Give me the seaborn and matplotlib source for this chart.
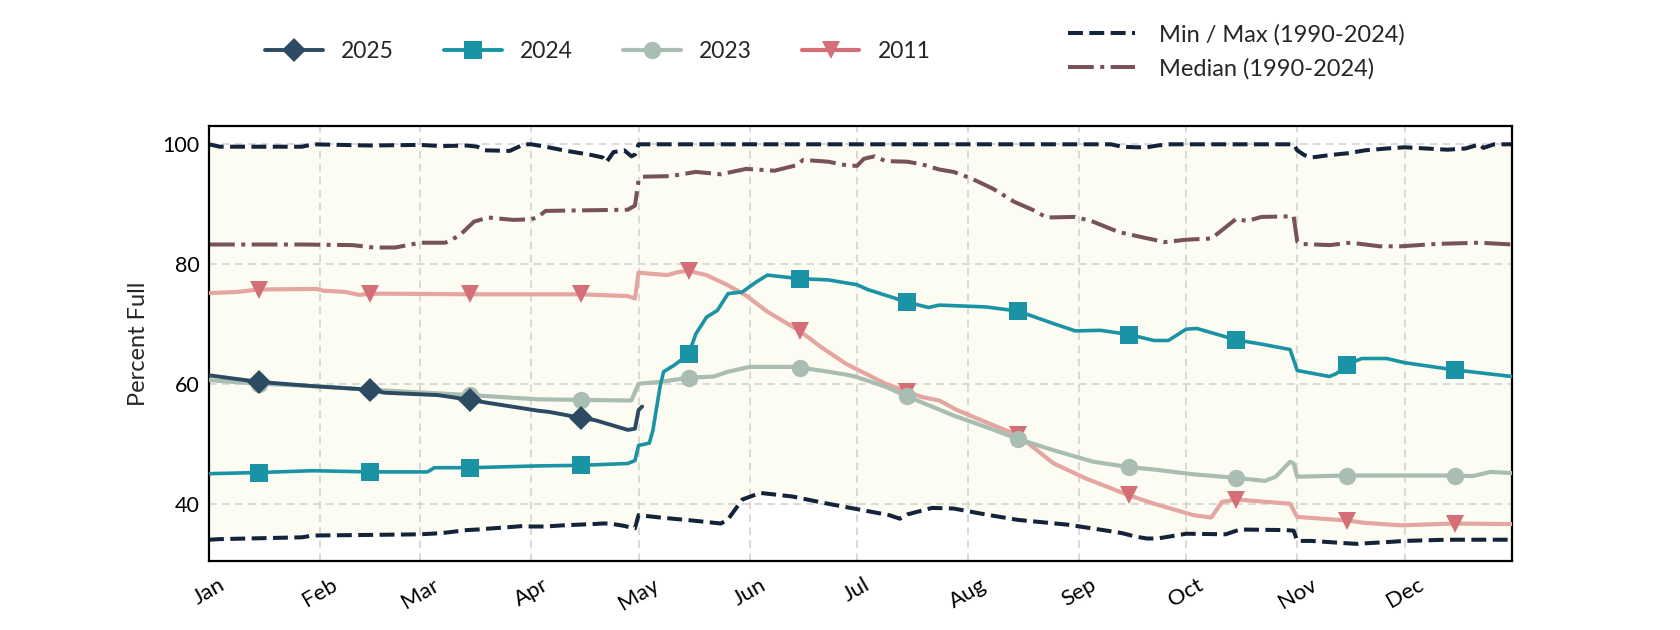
import numpy as np
import pandas as pd
import matplotlib
matplotlib.use("Agg")
import matplotlib.pyplot as plt
import matplotlib.dates as mdates
from matplotlib.lines import Line2D
import seaborn as sns

YEAR = "2025"

# ---------------- data ----------------
env_dates = ["01-01", "01-04", "01-27", "01-30", "02-15", "03-01", "03-07", "03-14", "03-17", "03-19",
             "03-26", "03-30", "04-01", "04-05", "04-10", "04-18", "04-21", "04-22", "04-24", "04-27",
             "04-29", "04-30", "05-01", "05-07", "05-16", "05-24", "05-26", "05-30", "06-04", "06-13",
             "06-22", "07-01", "07-10", "07-13", "07-15", "07-22", "07-28", "08-06", "08-15", "08-29",
             "09-10", "09-13", "09-17", "09-20", "09-23", "09-26", "10-01", "10-12", "10-16", "10-29",
             "10-31", "11-01", "11-03", "11-05", "11-10", "11-15", "11-18", "11-20", "11-26", "12-01",
             "12-07", "12-13", "12-18", "12-22", "12-23", "12-26", "12-31"]
max_vals = [100, 99.6, 99.6, 100, 99.8, 99.9, 99.7, 99.8, 99.6, 99.0, 98.9, 100,
            100, 99.6, 99.0, 98.2, 97.8, 97.0, 98.7, 99.0, 98.0, 98.3,
            100, 100, 100, 100, 100, 100, 100, 100, 100, 100,
            100, 100, 100, 100, 100, 100, 100, 100,
            100, 99.6, 99.5, 99.5, 99.8, 100,
            100, 100, 100, 100, 100,
            99.0, 98.2, 97.8, 98.2, 98.5, 98.8, 99.0, 99.3,
            99.5, 99.3, 99.1, 99.3, 100, 99.4, 100, 100]
min_vals = [34.1, 34.2, 34.5, 34.8, 34.9, 35.0, 35.2, 35.7, 35.8, 35.9, 36.2, 36.4,
            36.3, 36.3, 36.5, 36.7, 36.8, 36.8, 36.7, 36.4, 36.1, 36.0,
            38.2, 37.8, 37.3, 36.8, 37.5, 40.8, 41.9, 41.3, 40.2, 39.2,
            38.2, 37.6, 38.3, 39.4, 39.3, 38.3, 37.4, 36.6,
            35.5, 35.2, 34.6, 34.3, 34.3, 34.6,
            35.1, 35.0, 35.8, 35.7, 35.6,
            33.9, 33.9, 33.9, 33.7, 33.5, 33.4, 33.5, 33.7,
            33.9, 34.0, 34.1, 34.1, 34.1, 34.1, 34.1, 34.1]

median_dates = ["01-01", "01-27", "02-10", "02-16", "02-22", "03-01", "03-08", "03-12", "03-16", "03-20",
                "03-27", "04-01", "04-03", "04-05", "04-28", "04-30", "05-01", "05-02", "05-10", "05-17",
                "05-24", "05-31", "06-08", "06-14", "06-16", "06-23", "06-28", "07-01", "07-03", "07-06",
                "07-09", "07-15", "07-19", "07-24", "07-28", "08-02", "08-08", "08-14", "08-19", "08-23",
                "08-31", "09-05", "09-12", "09-18", "09-25", "10-01", "10-08", "10-11", "10-15", "10-18",
                "10-22", "10-31", "11-01", "11-02", "11-10", "11-16", "11-24", "11-30", "12-10", "12-22",
                "12-31"]
median_vals = [83.3, 83.3, 83.2, 82.8, 82.8, 83.6, 83.6, 84.8, 87.1, 87.8,
               87.4, 87.5, 87.9, 88.9, 89.1, 89.8, 94.0, 94.6, 94.7, 95.4,
               95.0, 95.9, 95.6, 96.5, 97.4, 97.1, 96.5, 96.4, 97.6, 98.0,
               97.2, 97.1, 96.7, 95.8, 95.4, 94.3, 92.6, 90.4, 89.1, 87.8,
               87.9, 87.1, 85.4, 84.6, 83.7, 84.1, 84.3, 85.7, 87.6, 87.2,
               87.9, 88.0, 83.8, 83.4, 83.2, 83.6, 83.0, 83.0, 83.4, 83.6,
               83.3]

y2011_dates = ["01-01", "01-09", "01-15", "01-31", "02-02", "02-08", "02-12", "02-15", "02-20", "03-15",
               "04-02", "04-15", "04-28", "04-30", "05-01", "05-09", "05-12", "05-15", "05-20", "05-26",
               "05-31", "06-06", "06-15", "06-21", "06-28", "07-01", "07-09", "07-15", "07-19", "07-24",
               "07-29", "08-06", "08-15", "08-25", "09-03", "09-15", "09-22", "10-03", "10-08", "10-11",
               "10-15", "10-30", "11-01", "11-15", "11-20", "11-30", "12-15", "12-31"]
y2011_vals = [75.2, 75.4, 75.8, 75.9, 75.6, 75.4, 74.9, 75.1, 75.1, 75.0,
              75.0, 75.0, 74.7, 74.3, 78.6, 78.2, 78.7, 78.9, 78.2, 76.5,
              74.8, 72.1, 68.9, 66.2, 63.4, 62.5, 60.1, 58.8, 57.9, 57.3,
              55.7, 53.7, 51.5, 46.8, 44.3, 41.5, 40.1, 38.2, 37.8, 40.4,
              40.8, 40.1, 37.9, 37.3, 36.9, 36.5, 36.8, 36.7]

y2023_dates = ["01-01", "01-15", "01-30", "02-15", "03-15", "04-03", "04-15", "04-29", "05-01", "05-07",
               "05-15", "05-22", "05-26", "06-01", "06-12", "06-15", "06-23", "06-29", "07-01", "07-09",
               "07-15", "07-28", "08-06", "08-15", "08-25", "09-05", "09-15", "09-22", "10-03", "10-15",
               "10-23", "10-26", "10-30", "10-31", "11-01", "11-15", "12-15", "12-20", "12-25", "12-31"]
y2023_vals = [60.7, 60.1, 59.7, 59.1, 58.2, 57.5, 57.4, 57.3, 60.1, 60.4,
              61.1, 61.3, 62.1, 62.9, 62.9, 62.8, 62.1, 61.5, 61.2, 59.6,
              58.0, 54.8, 52.9, 50.9, 49.0, 47.1, 46.2, 45.8, 45.0, 44.4,
              43.9, 44.6, 47.1, 46.8, 44.6, 44.8, 44.8, 44.7, 45.4, 45.2]

y2024_dates = ["01-01", "01-15", "01-30", "02-15", "03-03", "03-05", "03-15", "04-03", "04-15", "04-28",
               "04-30", "05-01", "05-04", "05-05", "05-07", "05-08", "05-11", "05-15", "05-17", "05-20",
               "05-23", "05-26", "05-30", "06-03", "06-06", "06-15", "06-23", "06-29", "07-01", "07-04",
               "07-15", "07-21", "07-24", "08-06", "08-15", "08-25", "08-31", "09-07", "09-15", "09-22",
               "09-26", "10-01", "10-04", "10-15", "10-22", "10-30", "11-01", "11-10", "11-12", "11-15",
               "11-19", "11-26", "12-01", "12-15", "12-31"]
y2024_vals = [45.1, 45.3, 45.6, 45.4, 45.4, 46.1, 46.1, 46.4, 46.5, 46.8,
              47.3, 49.8, 50.2, 52.3, 59.6, 62.1, 63.2, 65.0, 68.4, 71.2,
              72.3, 75.1, 75.4, 77.1, 78.2, 77.6, 77.4, 76.8, 76.6, 75.8,
              73.7, 72.8, 73.2, 72.9, 72.2, 70.1, 68.9, 69.0, 68.3, 67.3,
              67.3, 69.2, 69.3, 67.4, 66.7, 65.8, 62.3, 61.3, 61.8, 63.3,
              64.3, 64.3, 63.6, 62.4, 61.3]

y2025_dates = ["01-01", "01-15", "01-30", "02-15", "02-19", "03-06", "03-15", "03-20", "04-03", "04-06",
               "04-15", "04-19", "04-28", "04-30", "05-01", "05-02"]
y2025_vals = [61.5, 60.4, 59.7, 59.1, 58.6, 58.2, 57.4, 56.9, 55.6, 55.4,
              54.4, 54.0, 52.4, 52.6, 55.7, 56.3]

y_ticks = [40, 60, 80, 100]
month_labels = ["Jan", "Feb", "Mar", "Apr", "May", "Jun", "Jul", "Aug", "Sep", "Oct", "Nov", "Dec"]

# ---------------- styling ----------------
C2025 = "#2c4b62"
C2024 = "#1a94a5"
C2023 = "#aabdb2"
C2011_LINE = "#e5a6a2"
C2011_MK = "#d46f78"
CMINMAX = "#13233a"
CMED = "#775359"
FILL = "#fcfcf2"
GRID = "#cfcfcf"

sns.set_style("white")
plt.rcParams["font.family"] = ["Lato", "DejaVu Sans"]


def to_df(dates, vals):
    d = pd.to_datetime([f"{YEAR}-{s}" for s in dates])
    return pd.DataFrame({"date": d, "value": vals})


env = to_df(env_dates, max_vals)
env["min"] = min_vals
med = to_df(median_dates, median_vals)
d2011 = to_df(y2011_dates, y2011_vals)
d2023 = to_df(y2023_dates, y2023_vals)
d2024 = to_df(y2024_dates, y2024_vals)
d2025 = to_df(y2025_dates, y2025_vals)

fig = plt.figure(figsize=(16.8, 6.3), dpi=100)
ax = fig.add_axes([0.1244, 0.1095, 0.7756, 0.6905])
ax.set_facecolor("white")

# envelope fill
ax.fill_between(mdates.date2num(env["date"]), env["min"], env["value"], color=FILL, lw=0, zorder=0.2)

LW_REF = 2.9
sns.lineplot(data=env, x="date", y="value", ax=ax, color=CMINMAX, linewidth=LW_REF, linestyle="--",
             estimator=None, legend=False, zorder=2)
sns.lineplot(data=env, x="date", y="min", ax=ax, color=CMINMAX, linewidth=LW_REF, linestyle="--",
             estimator=None, legend=False, zorder=2)
sns.lineplot(data=med, x="date", y="value", ax=ax, color=CMED, linewidth=LW_REF, linestyle="-.",
             estimator=None, legend=False, zorder=2)


def mask15(df):
    return list(df["date"].dt.day == 15)


series = [
    (d2011, C2011_LINE, C2011_MK, "v", 13, 3.0),
    (d2023, C2023, C2023, "o", 12.5, 3.0),
    (d2024, C2024, C2024, "s", 13.5, 2.6),
    (d2025, C2025, C2025, "D", 12, 2.8),
]
for i, (df, lc, mc, mk, ms, lw) in enumerate(series):
    sns.lineplot(data=df, x="date", y="value", ax=ax, color=lc, linewidth=lw,
                 marker=mk, markersize=ms, markerfacecolor=mc, markeredgecolor=mc,
                 markeredgewidth=0, markevery=mask15(df),
                 estimator=None, legend=False, zorder=3 + i)

# axes
ax.set_xlim(mdates.date2num(pd.Timestamp(f"{YEAR}-01-01")), mdates.date2num(pd.Timestamp(f"{YEAR}-12-31")))
ax.set_ylim(30.55, 103.05)
ax.set_yticks(y_ticks)
ax.xaxis.set_major_locator(mdates.MonthLocator())
ax.set_xticks(ax.get_xticks())
ax.set_xticklabels(month_labels, rotation=30, ha="center")
ax.tick_params(axis="both", length=0, labelsize=15.5, colors="black")
ax.tick_params(axis="x", pad=10, labelsize=16)
ax.tick_params(axis="y", pad=7)
ax.set_xlabel("")
ax.set_ylabel("Percent Full", fontsize=17)
ax.yaxis.set_label_coords(-0.046, 0.5)
ax.set_axisbelow(True)
ax.grid(True, ls=(0, (5, 3.5)), color=GRID, lw=1.1, zorder=0.5)
for sp in ax.spines.values():
    sp.set_visible(True)
    sp.set_color("black")
    sp.set_linewidth(1.6)

# legends
h_years = [
    Line2D([], [], color=C2025, lw=2.8, marker="D", ms=12, mfc=C2025, mec=C2025, mew=0),
    Line2D([], [], color=C2024, lw=2.8, marker="s", ms=13.5, mfc=C2024, mec=C2024, mew=0),
    Line2D([], [], color=C2023, lw=3.0, marker="o", ms=12.5, mfc=C2023, mec=C2023, mew=0),
    Line2D([], [], color=C2011_MK, lw=3.0, marker="v", ms=13, mfc=C2011_MK, mec=C2011_MK, mew=0),
]
leg1 = fig.legend(h_years, ["2025", "2024", "2023", "2011"], loc="center",
                  bbox_to_anchor=(0.356, 0.9175), ncol=4, frameon=False, fontsize=16.5,
                  handlelength=2.5, handletextpad=0.8, columnspacing=2.2)
h_ref = [
    Line2D([], [], color=CMINMAX, lw=LW_REF, ls="--"),
    Line2D([], [], color=CMED, lw=LW_REF, ls="-."),
]
leg2 = fig.legend(h_ref, ["Min / Max (1990-2024)", "Median (1990-2024)"], loc="center left",
                  bbox_to_anchor=(0.623, 0.918), ncol=1, frameon=False, fontsize=17,
                  handlelength=2.85, handletextpad=1.0, labelspacing=0.55)

fig.savefig("out.png", dpi=100, facecolor="white")
